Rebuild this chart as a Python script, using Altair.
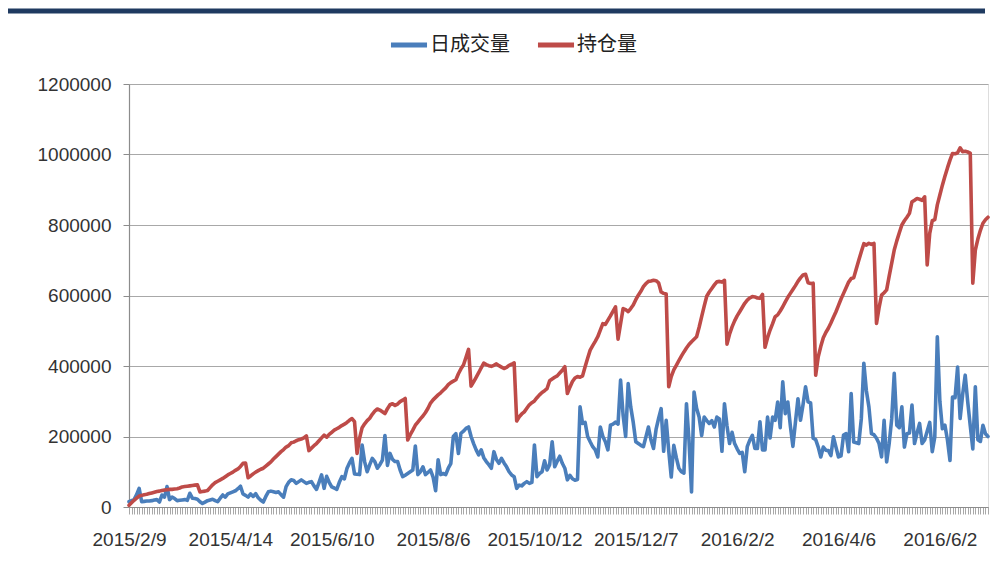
import json
import altair as alt
import pandas as pd

# x-axis category labels (every 40th trading day)
date_labels = ["2015/2/9", "2015/4/14", "2015/6/10", "2015/8/6", "2015/10/12",
               "2015/12/7", "2016/2/2", "2016/4/6", "2016/6/2"]
label_step = 40

# 日成交量 (daily volume), one value per trading day
volume = [
    15000, 18000, 21000, 35000, 53000, 15000, 16000, 17000, 17000, 18000,
    20000, 21000, 14000, 34000, 28000, 58000, 21000, 28000, 24000, 18000,
    19000, 20000, 21000, 19000, 39000, 25000, 24000, 22000, 15000, 10000,
    14000, 18000, 20000, 22000, 18000, 15000, 25000, 34000, 28000, 37000,
    40000, 43000, 46000, 52000, 59000, 37000, 33000, 28000, 37000, 30000,
    38000, 26000, 19000, 14000, 30000, 43000, 45000, 43000, 41000, 43000,
    35000, 28000, 58000, 70000, 77000, 75000, 67000, 72000, 77000, 72000,
    67000, 70000, 72000, 60000, 50000, 70000, 91000, 53000, 87000, 70000,
    57000, 54000, 50000, 70000, 86000, 80000, 109000, 125000, 138000, 94000,
    93000, 92000, 176000, 128000, 100000, 120000, 138000, 129000, 110000, 120000,
    133000, 203000, 118000, 152000, 135000, 129000, 129000, 105000, 86000, 90000,
    95000, 100000, 105000, 173000, 92000, 100000, 114000, 92000, 98000, 105000,
    85000, 46000, 134000, 92000, 95000, 92000, 110000, 123000, 200000, 208000,
    152000, 209000, 215000, 223000, 227000, 200000, 180000, 162000, 148000, 162000,
    140000, 129000, 120000, 110000, 157000, 135000, 124000, 138000, 125000, 114000,
    100000, 91000, 86000, 53000, 62000, 60000, 67000, 72000, 67000, 70000,
    176000, 86000, 95000, 100000, 131000, 105000, 120000, 185000, 114000, 130000,
    144000, 124000, 110000, 77000, 90000, 80000, 76000, 78000, 284000, 237000,
    240000, 200000, 185000, 171000, 162000, 142000, 227000, 200000, 185000, 162000,
    232000, 235000, 241000, 235000, 360000, 260000, 200000, 350000, 284000, 240000,
    185000, 180000, 175000, 171000, 199000, 227000, 190000, 166000, 220000, 251000,
    279000, 158000, 246000, 160000, 85000, 175000, 140000, 110000, 100000, 96000,
    293000, 189000, 43000, 326000, 280000, 255000, 203000, 255000, 245000, 237000,
    245000, 227000, 255000, 250000, 158000, 293000, 230000, 180000, 212000, 180000,
    165000, 152000, 155000, 100000, 171000, 190000, 203000, 166000, 166000, 242000,
    162000, 162000, 255000, 196000, 255000, 246000, 298000, 225000, 355000, 265000,
    298000, 230000, 172000, 240000, 307000, 246000, 290000, 341000, 298000, 295000,
    195000, 191000, 170000, 142000, 170000, 161000, 160000, 146000, 199000, 170000,
    142000, 145000, 204000, 208000, 157000, 322000, 184000, 182000, 180000, 250000,
    408000, 330000, 284000, 208000, 205000, 195000, 180000, 142000, 246000, 128000,
    180000, 250000, 379000, 232000, 225000, 284000, 170000, 208000, 210000, 289000,
    180000, 210000, 237000, 180000, 190000, 215000, 240000, 157000, 199000, 483000,
    300000, 222000, 232000, 190000, 132000, 312000, 310000, 397000, 251000, 320000,
    374000, 298000, 230000, 165000, 341000, 191000, 186000, 232000, 208000, 200000,
]

# 持仓量 (open interest), one value per trading day
open_interest = [
    5000, 12000, 19000, 25000, 31000, 33000, 35000, 36000, 38000, 40000,
    42000, 44000, 45000, 47000, 48000, 49000, 50000, 50000, 51000, 52000,
    54000, 57000, 58000, 59000, 60000, 61000, 62000, 63000, 43000, 44000,
    45000, 47000, 55000, 63000, 69000, 73000, 77000, 81000, 86000, 91000,
    95000, 99000, 104000, 108000, 115000, 124000, 125000, 83000, 88000, 94000,
    99000, 103000, 107000, 110000, 116000, 122000, 128000, 136000, 143000, 150000,
    157000, 163000, 170000, 174000, 182000, 184000, 188000, 191000, 193000, 196000,
    202000, 160000, 167000, 174000, 180000, 188000, 196000, 204000, 198000, 206000,
    212000, 218000, 222000, 226000, 231000, 235000, 240000, 246000, 251000, 242000,
    152000, 195000, 225000, 236000, 245000, 252000, 263000, 272000, 278000, 275000,
    270000, 265000, 279000, 290000, 293000, 288000, 292000, 299000, 303000, 308000,
    190000, 205000, 218000, 232000, 241000, 250000, 258000, 268000, 280000, 295000,
    304000, 311000, 318000, 324000, 331000, 338000, 347000, 353000, 357000, 361000,
    378000, 392000, 403000, 425000, 447000, 343000, 355000, 368000, 381000, 395000,
    408000, 404000, 401000, 399000, 402000, 406000, 401000, 397000, 393000, 396000,
    402000, 405000, 409000, 244000, 256000, 264000, 270000, 280000, 290000, 296000,
    301000, 310000, 318000, 325000, 330000, 336000, 358000, 363000, 368000, 372000,
    380000, 388000, 398000, 322000, 340000, 356000, 366000, 370000, 368000, 372000,
    398000, 422000, 445000, 458000, 470000, 483000, 502000, 520000, 518000, 530000,
    542000, 555000, 568000, 476000, 520000, 563000, 560000, 554000, 563000, 573000,
    588000, 601000, 612000, 625000, 634000, 640000, 641000, 643000, 642000, 636000,
    610000, 606000, 604000, 341000, 370000, 389000, 402000, 415000, 428000, 440000,
    451000, 461000, 469000, 476000, 483000, 510000, 540000, 570000, 598000, 610000,
    620000, 630000, 639000, 640000, 638000, 643000, 462000, 490000, 511000, 528000,
    542000, 554000, 566000, 578000, 587000, 593000, 597000, 596000, 593000, 592000,
    603000, 453000, 480000, 502000, 520000, 540000, 545000, 556000, 568000, 582000,
    595000, 606000, 617000, 628000, 640000, 650000, 658000, 660000, 636000, 634000,
    635000, 374000, 426000, 455000, 480000, 495000, 507000, 522000, 538000, 554000,
    572000, 590000, 606000, 622000, 638000, 648000, 650000, 675000, 700000, 724000,
    747000, 743000, 748000, 745000, 748000, 521000, 565000, 601000, 608000, 616000,
    655000, 692000, 729000, 755000, 778000, 800000, 812000, 822000, 833000, 866000,
    870000, 875000, 873000, 870000, 880000, 687000, 776000, 812000, 815000, 857000,
    885000, 913000, 938000, 962000, 984000, 1003000, 1002000, 1005000, 1019000, 1008000,
    1009000, 1007000, 1004000, 635000, 729000, 760000, 785000, 805000, 815000, 822000,
]

series_names = ["日成交量", "持仓量"]
series_colors = ["#4A7EBB", "#BE4B48"]
y_ticks = [0, 200000, 400000, 600000, 800000, 1000000, 1200000]

n = len(volume)
df = pd.DataFrame({
    "idx": list(range(n)) * 2,
    "value": volume + open_interest,
    "series": [series_names[0]] * n + [series_names[1]] * n,
    "ord": [0] * n + [1] * n,
})

label_js = json.dumps(date_labels, ensure_ascii=False)
label_expr = (f"datum.value % {label_step} == 0 && datum.value / {label_step} < {len(date_labels)}"
              f" ? {label_js}[datum.value / {label_step}] : ''")

font = "Liberation Sans"

lines = alt.Chart(df).mark_line(strokeWidth=3.6, strokeJoin="round", strokeCap="round").encode(
    x=alt.X("idx:Q",
            scale=alt.Scale(domain=[0, n - 1], nice=False, zero=False),
            axis=alt.Axis(values=list(range(n)), labelExpr=label_expr, labelOverlap=False,
                          grid=False, tickSize=7, tickColor="#a8a8a8", tickWidth=1,
                          domainColor="#8c8c8c", domainWidth=1.2,
                          labelFont=font, labelFontSize=19, labelColor="#333333",
                          labelPadding=16, labelFlush=False, labelBound=False, title=None)),
    y=alt.Y("value:Q",
            scale=alt.Scale(domain=[0, 1200000], nice=False),
            axis=alt.Axis(values=y_ticks, format="d", grid=True, gridColor="#a8a8a8",
                          gridWidth=1.2, tickSize=6, tickColor="#8c8c8c",
                          domainColor="#8c8c8c", domainWidth=1.2,
                          labelFont=font, labelFontSize=19, labelColor="#333333",
                          labelPadding=12, title=None)),
    color=alt.Color("series:N",
                    scale=alt.Scale(domain=series_names, range=series_colors),
                    legend=alt.Legend(orient="none", legendX=259, legendY=-60,
                                      direction="horizontal", title=None,
                                      symbolType="stroke", symbolSize=1300,
                                      symbolStrokeWidth=5, labelFont="Noto Sans CJK SC",
                                      labelFontSize=20, labelColor="#222222",
                                      labelOffset=0, columnPadding=17, padding=0)),
    order=alt.Order("ord:Q"),
    detail="series:N",
)

top_bar = alt.Chart(pd.DataFrame({"a": [0]})).mark_rule(color="#1F3A60", strokeWidth=5).encode(
    x=alt.value(-121), x2=alt.value(856), y=alt.value(-73)
)

chart = alt.layer(top_bar, lines).properties(
    width=859, height=423,
    autosize=alt.AutoSizeParams(type="none"),
    padding={"left": 121, "top": 76, "right": 4, "bottom": 50},
).configure_view(stroke=None).configure(background="white")

chart.save("out.html", embed_options={"renderer": "svg", "actions": False})
